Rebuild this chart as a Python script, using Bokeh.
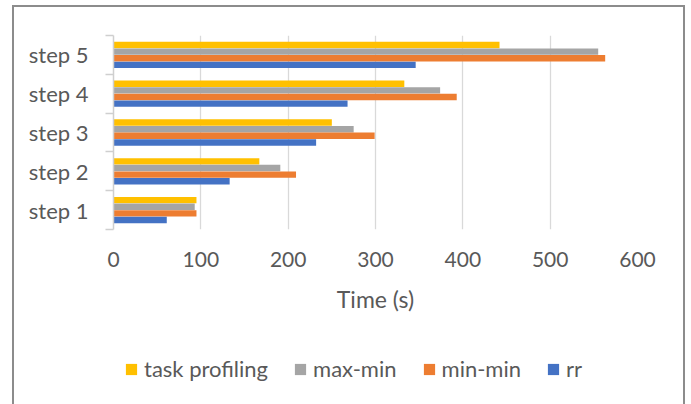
from bokeh.plotting import figure
from bokeh.layouts import column
from bokeh.models import (ColumnDataSource, Range1d, FixedTicker, Legend, LegendItem)
from bokeh.transform import dodge
from bokeh.embed import file_html
from bokeh.resources import INLINE

categories = ["step 1", "step 2", "step 3", "step 4", "step 5"]
task_profiling = [95, 167, 250, 333, 442]
max_min = [93, 191, 275, 374, 555]
min_min = [95, 209, 299, 393, 563]
rr = [61, 133, 232, 268, 346]
x_ticks = [0, 100, 200, 300, 400, 500, 600]

FONT = "Lato"
TXT = "#595959"

src = ColumnDataSource(dict(
    y=[i + 0.5 for i in range(len(categories))],
    tp=task_profiling, mx=max_min, mn=min_min, rr=rr,
))

p = figure(width=669, height=330, output_backend="svg", toolbar_location=None,
           x_range=Range1d(0, 600), y_range=Range1d(0, len(categories)),
           min_border_left=99, min_border_right=46, min_border_top=28,
           min_border_bottom=108)
p.outline_line_color = None
p.background_fill_color = "white"
p.border_fill_color = "white"

step = 0.171
bh = 0.165
series = [
    ("task profiling", "tp", "#FFC000", 1.5),
    ("max-min", "mx", "#A5A5A5", 0.5),
    ("min-min", "mn", "#ED7D31", -0.5),
    ("rr", "rr", "#4472C4", -1.5),
]
for name, col, color, k in series:
    p.hbar(y=dodge("y", k * step), right=col, left=0, height=bh, source=src,
           fill_color=color, line_color=None)

# x axis
xa = p.xaxis[0]
xa.ticker = FixedTicker(ticks=x_ticks, minor_ticks=[])
xa.axis_line_color = None
xa.major_tick_line_color = None
xa.minor_tick_line_color = None
xa.major_label_text_font = FONT
xa.major_label_text_font_size = "21px"
xa.major_label_text_color = TXT
xa.major_label_standoff = 16
xa.axis_label = "Time (s)"
xa.axis_label_text_font = FONT
xa.axis_label_text_font_size = "23px"
xa.axis_label_text_font_style = "normal"
xa.axis_label_text_color = TXT
xa.axis_label_standoff = 15

# y axis
ya = p.yaxis[0]
ya.ticker = FixedTicker(ticks=[i + 0.5 for i in range(len(categories))],
                        minor_ticks=list(range(len(categories) + 1)))
ya.major_label_overrides = {i + 0.5: c for i, c in enumerate(categories)}
ya.axis_line_color = "#CFCFCF"
ya.axis_line_width = 1.5
ya.major_tick_line_color = None
ya.major_tick_out = 0
ya.major_tick_in = 0
ya.minor_tick_line_color = "#CFCFCF"
ya.minor_tick_line_width = 1.5
ya.minor_tick_out = 8
ya.minor_tick_in = 0
ya.major_label_text_font = FONT
ya.major_label_text_font_size = "22px"
ya.major_label_text_color = TXT
ya.major_label_standoff = 17

p.xgrid.grid_line_color = "#D9D9D9"
p.xgrid.grid_line_width = 1.3
p.ygrid.visible = False

# legend strip (separate figure, renderers hidden, legend drawn inside its frame)
pl = figure(width=669, height=67, output_backend="svg", toolbar_location=None,
            x_range=Range1d(0, 600), y_range=Range1d(0, len(categories)),
            x_axis_type=None, y_axis_type=None, min_border=0)
pl.outline_line_color = None
pl.xgrid.visible = False
pl.ygrid.visible = False
items = []
for name, col, color, k in series:
    r = pl.hbar(y=dodge("y", k * step), right=col, left=0, height=bh, source=src,
                fill_color=color, line_color=None, visible=False)
    items.append(LegendItem(label=name, renderers=[r]))

legend = Legend(items=items, orientation="horizontal", location=(11, 22))
legend.glyph_width = 14
legend.glyph_height = 14
legend.label_standoff = 6
legend.spacing = 25
legend.padding = 0
legend.margin = 0
legend.border_line_color = None
legend.background_fill_alpha = 0
legend.label_text_font = FONT
legend.label_text_font_size = "22px"
legend.label_text_color = TXT
pl.add_layout(legend, "center")

layout = column(p, pl, spacing=0,
                styles={"margin-left": "12px", "margin-top": "5px",
                        "border-left": "2px solid #8C8C8C",
                        "border-top": "2px solid #8C8C8C",
                        "border-right": "2px solid #8C8C8C"})

open("out.html", "w").write(file_html(layout, INLINE))
